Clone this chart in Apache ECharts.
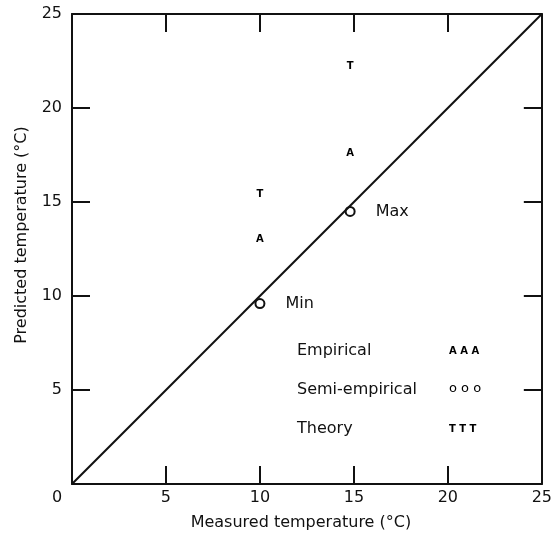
<!DOCTYPE html>
<html>
<head>
<meta charset="utf-8">
<script src="https://cdn.jsdelivr.net/npm/echarts@6/dist/echarts.min.js"></script>
<style>html,body{margin:0;padding:0;background:#fff}#c{width:555px;height:536px}</style>
</head>
<body>
<div id="c"></div>
<script>
const measured = [10, 14.8];
const empirical = [13.0, 17.6];
const semiEmpirical = [9.6, 14.5];
const theory = [15.4, 22.2];
const pointLabels = ['Min', 'Max'];
const legendNames = ['Empirical', 'Semi-empirical', 'Theory'];
const legendSymbols = ['A A A', 'o o o', 'T T T'];
const identityLine = [[0, 0], [25, 25]];

const FONT = 'DejaVu Sans';
const INK = '#111';

function axisCommon(show) {
  return {
    type: 'value', min: 0, max: 25, interval: 5,
    axisLine: { show: true, onZero: false, lineStyle: { color: INK, width: 2 } },
    axisTick: { show: true, inside: true, length: 18, lineStyle: { color: INK, width: 2 } },
    splitLine: { show: false },
    axisLabel: { show: show, color: INK, fontFamily: FONT, fontSize: 16 }
  };
}

const xBottom = Object.assign(axisCommon(true), {
  position: 'bottom',
  name: 'Measured temperature (°C)', nameLocation: 'middle', nameGap: 31,
  nameTextStyle: { color: INK, fontFamily: FONT, fontSize: 16, padding: [0, 12, 0, 0] }
});
xBottom.axisLabel.margin = 6;
xBottom.axisLabel.formatter = v => (v === 0 ? '{z|0}' : String(v));
xBottom.axisLabel.rich = { z: { color: INK, fontFamily: FONT, fontSize: 16, padding: [0, 30, 0, 0] } };
const xTop = Object.assign(axisCommon(false), { position: 'top' });
const yLeft = Object.assign(axisCommon(true), {
  position: 'left',
  name: 'Predicted temperature (°C)', nameLocation: 'middle', nameGap: 42,
  nameTextStyle: { color: INK, fontFamily: FONT, fontSize: 16, padding: [0, 0, 0, 28] }
});
yLeft.axisLabel.margin = 10;
yLeft.axisLabel.formatter = v => (v === 0 ? '' : String(v));
const yRight = Object.assign(axisCommon(false), { position: 'right' });

function letterSeries(name, letter, ys) {
  return {
    type: 'scatter', name: name, symbolSize: 1, itemStyle: { color: 'rgba(0,0,0,0)', opacity: 1 },
    data: measured.map((x, i) => [x, ys[i]]),
    label: { show: true, position: 'inside', formatter: letter, color: '#000', fontFamily: FONT, fontSize: 10, fontWeight: 'bold' }
  };
}

const legendGraphics = [];
legendNames.forEach((n, i) => {
  legendGraphics.push({ type: 'text', left: 297, top: 343 + i * 39, style: { text: n, fill: INK, font: '16px "' + FONT + '"' } });
  legendGraphics.push({ type: 'text', left: 449, top: (i === 1 ? 343 : 346) + i * 39, style: { text: legendSymbols[i], fill: '#000', font: (i === 1 ? '13px "' : 'bold 10px "') + FONT + '"' } });
});

const chart = echarts.init(document.getElementById('c'), null, { renderer: 'canvas' });
chart.setOption({
  backgroundColor: '#fff',
  animation: false,
  grid: { left: 72, top: 14, right: 11, bottom: 49 },
  xAxis: [xBottom, xTop],
  yAxis: [yLeft, yRight],
  series: [
    { type: 'line', data: identityLine, symbol: 'none', lineStyle: { color: INK, width: 2 }, silent: true },
    letterSeries('Empirical', 'A', empirical),
    letterSeries('Theory', 'T', theory),
    {
      type: 'scatter', name: 'Semi-empirical', symbol: 'emptyCircle', symbolSize: 9,
      itemStyle: { color: INK, borderColor: INK, borderWidth: 1.5, opacity: 1 },
      data: measured.map((x, i) => [x, semiEmpirical[i]]),
      label: { show: true, position: 'right', distance: 20, formatter: p => pointLabels[p.dataIndex], color: INK, fontFamily: FONT, fontSize: 16 }
    }
  ],
  graphic: legendGraphics
});
</script>
</body>
</html>
